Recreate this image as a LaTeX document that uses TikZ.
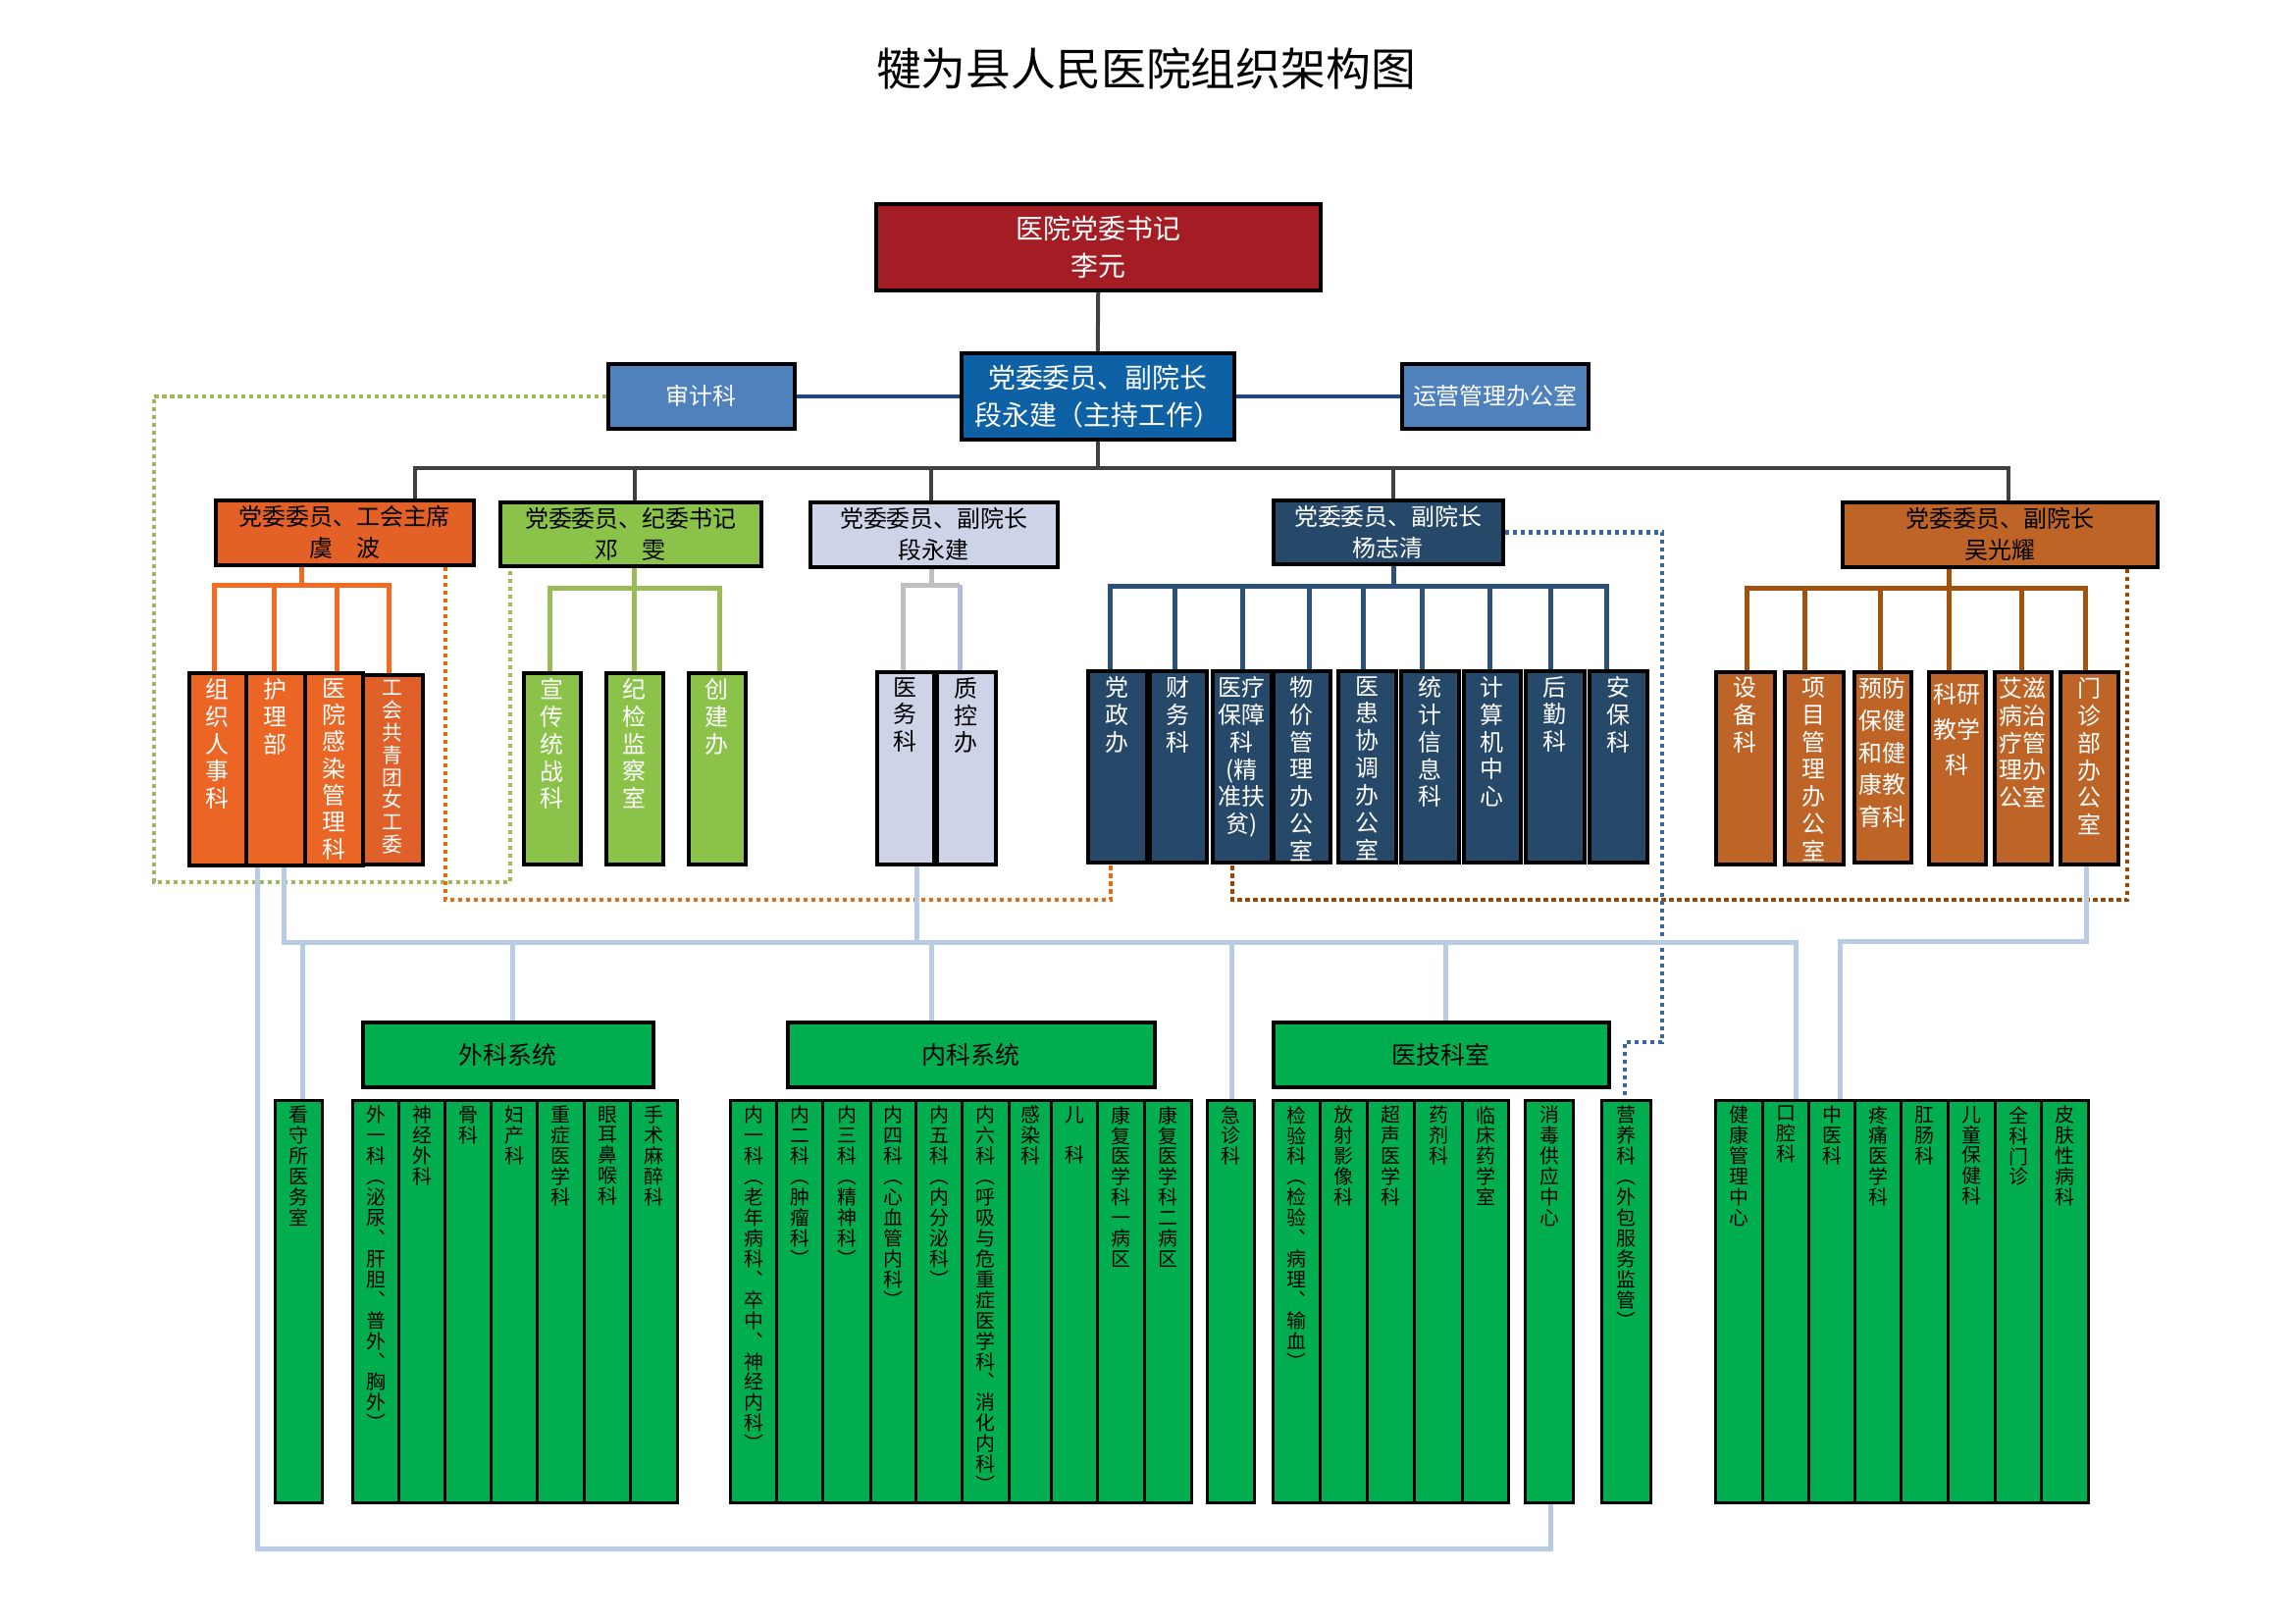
\documentclass[tikz,border=0pt]{standalone}
\usepackage{fontspec}
\setmainfont{Noto Sans CJK SC}
\usetikzlibrary{backgrounds}
\definecolor{cRed}{HTML}{A51D24}
\definecolor{cBlue}{HTML}{0E61A4}
\definecolor{cSteel}{HTML}{4F81BD}
\definecolor{cDark}{HTML}{404040}
\definecolor{cSLine}{HTML}{1F497D}
\definecolor{cOrP}{HTML}{E36127}
\definecolor{cOrC}{HTML}{EB6525}
\definecolor{cOrC2}{HTML}{E0602A}
\definecolor{cOrLine}{HTML}{F26B21}
\definecolor{cOrDot}{HTML}{E46C0A}
\definecolor{cGrP}{HTML}{8BC34A}
\definecolor{cGrLine}{HTML}{9BBB59}
\definecolor{cLav}{HTML}{CDD4E8}
\definecolor{cLavLine}{HTML}{BFBFBF}
\definecolor{cLavLine2}{HTML}{B3BBDA}
\definecolor{cNavy}{HTML}{264869}
\definecolor{cNavyLine}{HTML}{2D5279}
\definecolor{cNavyDot}{HTML}{3A6699}
\definecolor{cBrown}{HTML}{BE6427}
\definecolor{cBrLine}{HTML}{A0520F}
\definecolor{cBrDot}{HTML}{974806}
\definecolor{cGreen}{HTML}{00AE50}
\definecolor{cLB}{HTML}{B9CCE4}
\def\vsEndDef{\vsEnd}
\newcommand\vstack[1]{\vsA#1\vsEnd}
\def\vsA#1{\def\vsTmp{#1}\ifx\vsTmp\vsEndDef\else#1\expandafter\vsB\fi}
\def\vsB#1{\def\vsTmp{#1}\ifx\vsTmp\vsEndDef\else\\#1\expandafter\vsB\fi}
\newcommand\bx[6]{\pgfmathsetmacro\bxw{#4-#2}\pgfmathsetmacro\bxh{#5-#3}\node[#6,anchor=north west,minimum width=\bxw bp,minimum height=\bxh bp,inner sep=0pt] (#1) at (#2,#3)}
\newcommand\vt[3][]{\node[vtx,#1] (t#2) at ([yshift=-7bp]#2.north) {\expandafter\vstack\expandafter{#3}};}
\tikzset{
 bxs/.style={draw=black,line width=3.5bp},
 tbox/.style={bxs,align=center},
 redbox/.style={tbox,fill=cRed,text=white,font=\fontsize{28}{38}\selectfont},
 bluebox/.style={tbox,fill=cBlue,text=white,font=\fontsize{28}{38}\selectfont},
 steelbox/.style={tbox,fill=cSteel,text=white,font=\fontsize{24}{30}\selectfont},
 l2box/.style={tbox,font=\fontsize{24}{32}\selectfont},
 l3box/.style={bxs},
 hbox/.style={tbox,fill=cGreen,font=\fontsize{25}{30}\selectfont},
 cbox/.style={draw=black,line width=3bp,fill=cGreen},
 vtx/.style={anchor=north,inner sep=0pt,align=center,font=\fontsize{24}{28}\selectfont},
 btx/.style={font=\fontsize{20}{21}\selectfont},
 gline/.style={draw=cDark,line width=4bp},
 sline/.style={draw=cSLine,line width=4bp},
 oline/.style={draw=cOrLine,line width=5bp},
 grline/.style={draw=cGrLine,line width=5bp},
 lvline/.style={draw=cLavLine,line width=5bp},
 lvline2/.style={draw=cLavLine2,line width=5bp},
 nvline/.style={draw=cNavyLine,line width=5bp},
 brline/.style={draw=cBrLine,line width=5bp},
 lbl/.style={draw=cLB,line width=5bp},
 dotl/.style={line width=4.5bp,dash pattern=on 4.5bp off 3.5bp},
 gdot/.style={dotl,draw=cGrLine},
 odot/.style={dotl,draw=cOrDot},
 bdot/.style={dotl,draw=cBrDot},
 ndot/.style={dotl,draw=cNavyDot},
}
\begin{document}
\begin{tikzpicture}[x=1bp,y=-1bp]
\useasboundingbox (0,0) rectangle (2339,1654);
\node[font=\fontsize{46}{50}\selectfont] (title) at (1168,70) {犍为县人民医院组织架构图};
% level 1
\bx{rb}{891}{206}{1344}{294}{redbox} {医院党委书记\\李元};
\bx{cb}{978}{358}{1256}{446}{bluebox} {党委委员、副院长\\段永建（主持工作）};
\bx{sj}{618}{369}{808}{435}{steelbox} {审计科};
\bx{yg}{1427}{369}{1617}{435}{steelbox} {运营管理办公室};
% level 2
\bx{op}{218}{508}{481}{574}{l2box,fill=cOrP} {党委委员、工会主席\\虞　波};
\bx{gp}{508}{510}{774}{575}{l2box,fill=cGrP} {党委委员、纪委书记\\邓　雯};
\bx{lp}{824}{510}{1076}{576}{l2box,fill=cLav} {党委委员、副院长\\段永建};
\bx{np}{1296}{508}{1530}{573}{l2box,fill=cNavy,text=white} {党委委员、副院长\\杨志清};
\bx{bp}{1876}{510}{2197}{576}{l2box,fill=cBrown} {党委委员、副院长\\吴光耀};
% level 3 orange
\foreach \nm/\xa/\xb/\tx in {o1/191/249/组织人事科, o2/249/309/护理部}{
 \bx{\nm}{\xa}{684}{\xb}{880}{l3box,fill=cOrC} {};
 \vt[text=white]{\nm}{\tx}}
\bx{o3}{309}{684}{368}{880}{l3box,fill=cOrC} {};
\vt[text=white,font=\fontsize{24}{27.5}\selectfont]{o3}{医院感染管理科}
\bx{o4}{368}{686}{429}{879}{l3box,fill=cOrC2} {};
\vt[text=white,font=\fontsize{21}{23}\selectfont]{o4}{工会共青团女工委}
% green
\foreach \nm/\xa/\xb/\tx in {g1/532/590/宣传统战科, g2/616/674/纪检监察室, g3/700/758/创建办}{
 \bx{\nm}{\xa}{684}{\xb}{879}{l3box,fill=cGrP} {};
 \vt[text=white]{\nm}{\tx}}
% lavender
\foreach \nm/\xa/\xb/\tx in {l1/892/950/医务科, l2/953/1013/质控办}{
 \bx{\nm}{\xa}{683}{\xb}{879}{l3box,fill=cLav} {};
 \vt{\nm}{\tx}}
% navy
\foreach \nm/\xa/\xb/\tx in {n1/1107/1167/党政办, n2/1170/1228/财务科, n4/1296/1354/物价管理办公室, n5/1362/1421/医患协调办公室, n6/1426/1485/统计信息科, n7/1490/1548/计算机中心, n8/1553/1613/后勤科, n9/1618/1677/安保科}{
 \bx{\nm}{\xa}{682}{\xb}{877}{l3box,fill=cNavy} {};
 \vt[text=white]{\nm}{\tx}}
\bx{n3}{1234}{682}{1294}{877}{l3box,fill=cNavy} {};
\vt[text=white]{n3}{{医疗}{保障}科{(精}{准扶}{贫)}}
% brown
\foreach \nm/\xa/\xb/\tx in {b1/1747/1807/设备科, b2/1817/1877/项目管理办公室, b6/2098/2157/门诊部办公室}{
 \bx{\nm}{\xa}{683}{\xb}{879}{l3box,fill=cBrown} {};
 \vt[text=white]{\nm}{\tx}}
\bx{b3}{1888}{683}{1946}{877}{l3box,fill=cBrown} {};
\vt[text=white,font=\fontsize{24}{33}\selectfont]{b3}{{预防}{保健}{和健}{康教}{育科}}
\bx{b4}{1964}{683}{2022}{879}{l3box,fill=cBrown} {};
\node[vtx,text=white,font=\fontsize{24}{36}\selectfont] (tb4) at ([yshift=-13bp]b4.north) {科研\\教学\\科};
\bx{b5}{2031}{683}{2089}{879}{l3box,fill=cBrown} {};
\vt[text=white]{b5}{{艾滋}{病治}{疗管}{理办}{公室}}
% bottom headers
\bx{wk}{368}{1040}{664}{1106}{hbox} {外科系统};
\bx{nk}{801}{1040}{1175}{1106}{hbox} {内科系统};
\bx{yj}{1296}{1040}{1638}{1106}{hbox} {医技科室};
% bottom columns
\foreach \nm/\xa/\xb/\tx in {ks/279/327/看守所医务室,
 w1/358/405/外一科︵泌尿︑肝胆︑普外︑胸外︶, w2/405/452/神经外科, w3/452/499/骨科, w4/499/546/妇产科, w5/546/594/重症医学科, w6/594/641/眼耳鼻喉科, w7/641/689/手术麻醉科,
 k1/743/790/内一科︵老年病科︑卒中︑神经内科︶, k2/790/837/内二科︵肿瘤科︶, k3/837/886/内三科︵精神科︶, k4/886/932/内四科︵心血管内科︶, k5/932/979/内五科︵内分泌科︶, k6/979/1027/内六科︵呼吸与危重症医学科︑消化内科︶, k7/1027/1070/感染科, k9/1117/1165/康复医学科一病区, k10/1165/1213/康复医学科二病区,
 jz/1229/1277/急诊科,
 j1/1296/1344/检验科︵检验︑病理︑输血︶, j2/1344/1392/放射影像科, j3/1392/1440/超声医学科, j4/1440/1489/药剂科, j5/1489/1536/临床药学室,
 xd/1553/1602/消毒供应中心, yy/1631/1681/营养科︵外包服务监管︶,
 r1/1747/1795/健康管理中心, r2/1795/1842/口腔科, r3/1842/1889/中医科, r4/1889/1936/疼痛医学科, r5/1936/1984/肛肠科, r6/1984/2032/儿童保健科, r7/2032/2079/全科门诊, r8/2079/2127/皮肤性病科}{
 \bx{\nm}{\xa}{1120}{\xb}{1530}{cbox} {};
 \vt[btx]{\nm}{\tx}}
\bx{k8}{1070}{1120}{1117}{1530}{cbox} {};
\vt[btx]{k8}{儿{\mbox{}}科}
% connectors
\begin{pgfonlayer}{background}
\fill[white] (0,0) rectangle (2339,1654);
\coordinate (gA) at (423,477); \coordinate (gB) at (647,477); \coordinate (gC) at (949,477);
\coordinate (gD) at (1420,477); \coordinate (gE) at (2047,477);
\draw[gline] (rb.south) -- (cb.north);
\draw[gline] (cb.south) -- (cb.south |- gA);
\draw[gline,line join=miter] (gA |- op.north) -- (gA) -- (gE) -- (gE |- bp.north);
\draw[gline] (gB) -- (gB |- gp.north);
\draw[gline] (gC) -- (gC |- lp.north);
\draw[gline] (gD) -- (gD |- np.north);
\draw[sline] (sj.east) -- (sj.east -| cb.west);
\draw[sline] (cb.east |- yg.west) -- (yg.west);
% orange tree
\coordinate (oP) at (307,596); \coordinate (oa) at (218,596); \coordinate (ob) at (279,596);
\coordinate (oc) at (343,596); \coordinate (od) at (396,596);
\draw[oline] (op.south -| oP) -- (oP);
\draw[oline,line join=miter] (oa |- o1.north) -- (oa) -- (od) -- (od |- o4.north);
\draw[oline] (ob) -- (ob |- o2.north);
\draw[oline] (oc) -- (oc |- o3.north);
% green tree
\coordinate (ga) at (560,599); \coordinate (gb) at (646,599); \coordinate (gc) at (733,599);
\draw[grline] (gp.south -| gb) -- (gb);
\draw[grline,line join=miter] (ga |- g1.north) -- (ga) -- (gc) -- (gc |- g3.north);
\draw[grline] (gb) -- (gb |- g2.north);
% lavender tree
\coordinate (la) at (920,596); \coordinate (lb) at (978,596); \coordinate (lm) at (949,596);
\draw[lvline] (lp.south -| lm) -- (lm);
\draw[lvline,line join=miter] (la |- l1.north) -- (la) -- (lb);
\draw[lvline2] (lb) -- (lb |- l2.north);
% navy tree
\coordinate (nP) at (1420,597);
\foreach \c/\xx in {na/1131,nb/1197,nc/1266,nd/1334,ne/1389,nf/1449,ng/1518,nh/1580,ni/1637}{\coordinate (\c) at (\xx,597);}
\draw[nvline] (np.south -| nP) -- (nP);
\draw[nvline,line join=miter] (na |- n1.north) -- (na) -- (ni) -- (ni |- n9.north);
\foreach \c in {nb,nc,nd,ne,nf,ng,nh}{\draw[nvline] (\c) -- (\c |- n2.north);}
% brown tree
\foreach \c/\xx in {ba/1780,bb/1839,bc/1916,bd/1986,be/2060,bf/2125}{\coordinate (\c) at (\xx,599);}
\draw[brline] (bp.south -| bd) -- (bd);
\draw[brline,line join=miter] (ba |- b1.north) -- (ba) -- (bf) -- (bf |- b6.north);
\foreach \c in {bb,bc,bd,be}{\draw[brline] (\c) -- (\c |- b2.north);}
% dotted links
\coordinate (gd1) at (157,899); \coordinate (gd2) at (520,899);
\draw[gdot] (sj.west) -| (gd1) -- (gd2) -- (gd2 |- gp.south);
\coordinate (od1) at (454,917); \coordinate (od2) at (1132,917);
\draw[odot] (op.south -| od1) -- (od1) -- (od2) -- (od2 |- n1.south);
\coordinate (bd1) at (2168,917); \coordinate (bd2) at (1256,917);
\draw[bdot] (bp.south -| bd1) -- (bd1) -- (bd2) -- (bd2 |- n3.south);
\coordinate (nd1) at (1694,1062); \coordinate (nd2) at (1656,1062);
\draw[ndot] (np.east) -| (nd1) -- (nd2) -- (nd2 |- yy.north);
% light blue links
\coordinate (lb1) at (262,1578); \coordinate (lb2) at (1580,1578);
\draw[lbl,line join=miter] (o2.south -| lb1) -- (lb1) -- (lb2) -- (lb2 |- xd.south);
\coordinate (bus1) at (289,960); \coordinate (bus2) at (1830,960);
\draw[lbl,line join=miter] (o2.south -| bus1) -- (bus1) -- (bus2) -- (bus2 |- r2.north);
\coordinate (d1) at (308,960); \coordinate (d2) at (522,960); \coordinate (d3) at (949,960);
\coordinate (d4) at (1255,960); \coordinate (d5) at (1473,960); \coordinate (d6) at (934,960);
\draw[lbl] (d1) -- (d1 |- ks.north);
\draw[lbl] (d2) -- (d2 |- wk.north);
\draw[lbl] (d3) -- (d3 |- nk.north);
\draw[lbl] (d4) -- (d4 |- jz.north);
\draw[lbl] (d5) -- (d5 |- yj.north);
\draw[lbl] (l1.south -| d6) -- (d6);
\coordinate (e1) at (2126,959); \coordinate (e2) at (1875,959);
\draw[lbl,line join=miter] (b6.south -| e1) -- (e1) -- (e2) -- (e2 |- r3.north);
\end{pgfonlayer}
\end{tikzpicture}
\end{document}
